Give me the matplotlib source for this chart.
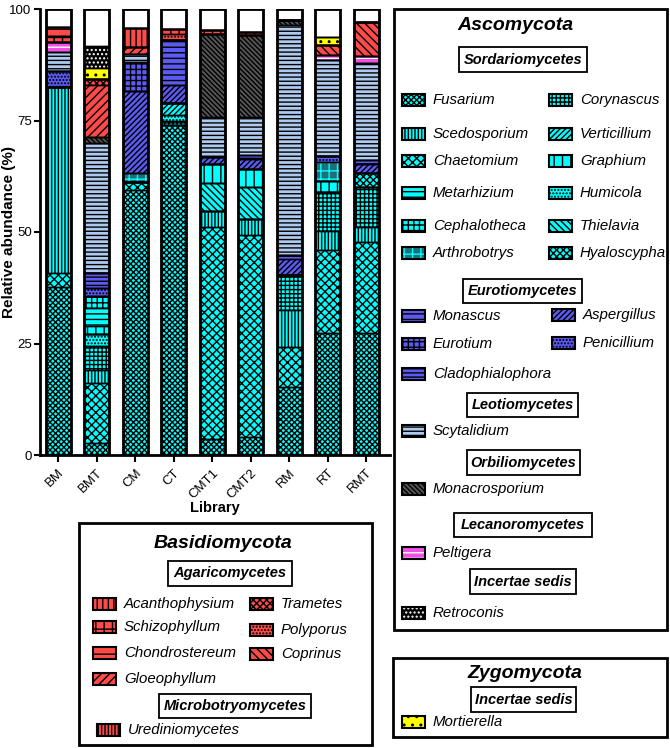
import matplotlib
matplotlib.use("Agg")
import matplotlib.pyplot as plt
from matplotlib.patches import Rectangle
import numpy as np

plt.rcParams['font.family'] = ['Liberation Sans', 'DejaVu Sans']
plt.rcParams['hatch.linewidth'] = 1.0

libraries = ["BM", "BMT", "CM", "CT", "CMT1", "CMT2", "RM", "RT", "RMT"]
yticks = [0, 25, 50, 75, 100]

# ---- data (relative abundance %, per library) ----
Fusarium        = [37.7, 2.7, 59.4, 74.0, 3.5, 4.0, 15.3, 27.3, 27.3]
Chaetomium      = [3.2, 13.4, 1.8, 0.0, 47.6, 45.3, 9.0, 18.7, 20.4]
Scedosporium    = [41.5, 2.9, 0.0, 0.0, 3.6, 3.6, 8.3, 4.2, 3.4]
Corynascus      = [0.0, 5.4, 0.0, 1.0, 0.0, 0.0, 7.8, 8.8, 8.9]
Humicola        = [0.0, 2.8, 0.0, 1.2, 0.0, 0.0, 0.0, 0.0, 0.0]
Verticillium    = [0.0, 0.0, 0.0, 2.7, 0.0, 0.0, 0.0, 0.0, 0.0]
Thielavia       = [0.0, 0.0, 0.0, 0.0, 6.3, 7.1, 0.0, 0.0, 0.0]
Hyaloscypha     = [0.0, 0.0, 0.0, 0.0, 0.0, 0.0, 0.0, 0.0, 3.3]
Graphium        = [0.0, 1.8, 0.0, 0.0, 4.3, 4.2, 0.0, 2.4, 0.0]
Metarhizium     = [0.0, 4.0, 0.0, 0.0, 0.0, 0.0, 0.0, 0.0, 0.0]
Cephalotheca    = [0.0, 2.7, 0.0, 0.0, 0.0, 0.0, 0.0, 0.0, 0.0]
Arthrobotrys    = [0.0, 0.0, 2.0, 0.0, 0.0, 0.0, 0.0, 4.2, 0.0]
Penicillium     = [3.7, 1.8, 0.0, 0.0, 0.0, 0.0, 0.0, 1.4, 0.0]
Aspergillus     = [0.0, 0.0, 18.5, 4.0, 1.5, 2.2, 3.5, 0.0, 1.9]
Cladophialophora= [0.0, 3.3, 0.0, 0.0, 0.0, 0.0, 0.9, 0.0, 0.0]
Monascus        = [0.0, 0.0, 0.0, 10.2, 0.0, 0.9, 0.0, 0.0, 0.9]
Eurotium        = [0.0, 0.0, 6.4, 0.0, 0.0, 0.0, 0.0, 0.0, 0.0]
Scytalidium     = [4.3, 29.2, 1.8, 0.0, 9.0, 8.4, 51.6, 21.6, 21.8]
Monacrosporium  = [0.0, 1.3, 0.0, 0.0, 18.6, 18.4, 1.1, 0.0, 0.0]
Peltigera       = [2.2, 0.0, 0.0, 0.0, 0.0, 0.0, 0.0, 1.0, 1.5]
Gloeophyllum    = [0.0, 11.7, 1.6, 0.0, 0.0, 0.0, 0.0, 0.0, 0.0]
Trametes        = [0.0, 1.3, 0.0, 0.0, 0.0, 0.0, 0.0, 0.0, 0.0]
Coprinus        = [0.0, 0.0, 0.0, 0.0, 0.0, 0.0, 0.0, 2.4, 7.6]
Polyporus       = [0.0, 0.0, 0.0, 1.3, 0.0, 0.0, 0.0, 0.0, 0.0]
Schizophyllum   = [1.4, 0.0, 0.0, 1.1, 1.0, 0.8, 0.0, 0.0, 0.0]
Acanthophysium  = [0.0, 0.0, 4.2, 0.0, 0.0, 0.0, 0.0, 0.0, 0.0]
Chondrostereum  = [2.0, 0.0, 0.0, 0.0, 0.0, 0.0, 0.0, 0.0, 0.0]
Urediniomycetes = [0.0, 0.0, 0.0, 0.0, 0.0, 0.0, 0.0, 0.0, 0.0]
Mortierella     = [0.0, 2.4, 0.0, 0.0, 0.0, 0.0, 0.0, 1.8, 0.0]
Retroconis      = [0.0, 5.0, 0.0, 0.0, 0.0, 0.0, 0.0, 0.0, 0.0]
Others          = [4.0, 8.3, 4.3, 4.5, 4.6, 5.1, 2.5, 6.2, 3.0]

series = [
    ("Fusarium", Fusarium), ("Chaetomium", Chaetomium), ("Scedosporium", Scedosporium),
    ("Corynascus", Corynascus), ("Humicola", Humicola), ("Verticillium", Verticillium),
    ("Thielavia", Thielavia), ("Hyaloscypha", Hyaloscypha), ("Graphium", Graphium),
    ("Metarhizium", Metarhizium), ("Cephalotheca", Cephalotheca), ("Arthrobotrys", Arthrobotrys),
    ("Penicillium", Penicillium), ("Aspergillus", Aspergillus), ("Cladophialophora", Cladophialophora),
    ("Monascus", Monascus), ("Eurotium", Eurotium), ("Scytalidium", Scytalidium),
    ("Monacrosporium", Monacrosporium), ("Peltigera", Peltigera), ("Gloeophyllum", Gloeophyllum),
    ("Trametes", Trametes), ("Coprinus", Coprinus), ("Polyporus", Polyporus),
    ("Schizophyllum", Schizophyllum), ("Acanthophysium", Acanthophysium),
    ("Chondrostereum", Chondrostereum), ("Urediniomycetes", Urediniomycetes),
    ("Mortierella", Mortierella), ("Retroconis", Retroconis), ("Others", Others),
]

# ---- styles: (face, hatch, hatch colour) ----
CY, BL, LB, GR, MG, RD, YL = '#00FFFF', '#5B5BF2', '#AECBEF', '#555555', '#F050E6', '#FF4A4A', '#FFFF00'
style = {
    "Fusarium": (CY, 'xxxxxx', 'black'),
    "Chaetomium": (CY, 'xxxx', 'black'),
    "Scedosporium": (CY, '|||||', 'black'),
    "Corynascus": (CY, '++++', 'black'),
    "Humicola": (CY, '.....', 'black'),
    "Verticillium": (CY, '//////', 'black'),
    "Thielavia": (CY, '\\\\\\\\\\', 'black'),
    "Hyaloscypha": (CY, 'xxxxx', 'black'),
    "Graphium": (CY, '||', 'black'),
    "Metarhizium": (CY, '---', 'black'),
    "Cephalotheca": (CY, '+++', 'black'),
    "Arthrobotrys": ('#1f6f7a', '++', CY),
    "Penicillium": (BL, '.....', 'black'),
    "Aspergillus": (BL, '//////', 'black'),
    "Cladophialophora": (BL, '----', 'black'),
    "Monascus": (BL, '---', 'black'),
    "Eurotium": (BL, '+++', 'black'),
    "Scytalidium": (LB, '----', 'black'),
    "Monacrosporium": (GR, '\\\\\\\\\\\\\\', 'black'),
    "Peltigera": (MG, '---', 'white'),
    "Gloeophyllum": (RD, '////', 'black'),
    "Trametes": (RD, 'xxxxx', 'black'),
    "Coprinus": (RD, '\\\\\\\\', 'black'),
    "Polyporus": (RD, '.....', 'black'),
    "Schizophyllum": (RD, '++', 'black'),
    "Acanthophysium": (RD, '|||', 'black'),
    "Chondrostereum": (RD, '--', 'black'),
    "Urediniomycetes": (RD, '|||||', 'black'),
    "Mortierella": (YL, '..', 'black'),
    "Retroconis": ('black', '....', 'white'),
    "Others": ('white', '', 'black'),
}

fig = plt.figure(figsize=(6.7, 7.48), dpi=100)
ax = fig.add_axes([40/670, 293/748, 350/670, 446/748])

x = np.arange(len(libraries))
w = 0.65
bottom = np.zeros(len(libraries))
for name, vals in series:
    vals = np.array(vals, dtype=float)
    face, hatch, hc = style[name]
    ax.bar(x, vals, w, bottom=bottom, color=face, edgecolor=hc, hatch=hatch, linewidth=0, zorder=2)
    ax.bar(x, vals, w, bottom=bottom, fill=False, edgecolor='black', linewidth=1.0, zorder=3)
    bottom += vals
ax.bar(x, bottom, w, fill=False, edgecolor='black', linewidth=2.0, zorder=4)

ax.set_xlim(-0.47, 8.62)
ax.set_ylim(0, 100)
ax.set_yticks(yticks)
ax.set_xticks(x)
ax.set_xticklabels(libraries, rotation=45, ha='right', rotation_mode='anchor', fontsize=9.5)
ax.tick_params(axis='y', labelsize=9.5, width=1.5, length=4, pad=2)
ax.tick_params(axis='x', width=1.5, length=5)
for s in ['top', 'right']:
    ax.spines[s].set_visible(False)
for s in ['left', 'bottom']:
    ax.spines[s].set_linewidth(2)
ax.set_ylabel("Relative abundance (%)", fontsize=11, fontweight='bold')
ax.yaxis.set_label_coords(-0.069, 0.5)
ax.set_xlabel("Library", fontsize=10.5, fontweight='bold', labelpad=0)

# ---- legend panels (pixel coordinates overlay) ----
ov = fig.add_axes([0, 0, 1, 1])
ov.set_xlim(0, 670)
ov.set_ylim(748, 0)
ov.axis('off')

def frame(x0, y0, x1, y1, lw=2.0):
    ov.add_patch(Rectangle((x0, y0), x1 - x0, y1 - y0, fill=False, edgecolor='black', linewidth=lw))

def title(xc, yc, t):
    ov.text(xc, yc, t, ha='center', va='center', fontsize=14, fontweight='bold', style='italic')

def cls(x0, y0, x1, y1, t):
    ov.add_patch(Rectangle((x0, y0), x1 - x0, y1 - y0, fill=False, edgecolor='black', linewidth=1.3))
    ov.text((x0 + x1) / 2, (y0 + y1) / 2, t, ha='center', va='center', fontsize=10.5,
            fontweight='bold', style='italic')

def entry(xs, yc, name, tx=None):
    face, hatch, hc = style[name]
    ov.add_patch(Rectangle((xs, yc - 6), 23, 12, facecolor=face, edgecolor=hc, hatch=hatch, linewidth=0))
    ov.add_patch(Rectangle((xs, yc - 6), 23, 12, fill=False, edgecolor='black', linewidth=1.5))
    ov.text(xs + 31 if tx is None else tx, yc, name, ha='left', va='center', fontsize=10.8, style='italic')

# Ascomycota
frame(394, 9, 667, 630)
title(515, 25, "Ascomycota")
cls(459, 47, 587, 72, "Sordariomycetes")
for yc, a, b in [(100, "Fusarium", "Corynascus"), (134, "Scedosporium", "Verticillium"),
                 (161, "Chaetomium", "Graphium"), (193, "Metarhizium", "Humicola"),
                 (226, "Cephalotheca", "Thielavia"), (253, "Arthrobotrys", "Hyaloscypha")]:
    entry(402, yc, a)
    entry(549, yc, b)
cls(463, 279, 582, 303, "Eurotiomycetes")
entry(402, 316, "Monascus"); entry(552, 315, "Aspergillus")
entry(402, 344, "Eurotium"); entry(552, 343, "Penicillium")
entry(402, 374, "Cladophialophora")
cls(467, 393, 578, 417, "Leotiomycetes")
entry(402, 431, "Scytalidium")
cls(467, 450, 580, 475, "Orbiliomycetes")
entry(402, 489, "Monacrosporium")
cls(454, 513, 592, 537, "Lecanoromycetes")
entry(402, 553, "Peltigera")
cls(470, 569, 576, 594, "Incertae sedis")
entry(402, 613, "Retroconis")

# Basidiomycota
frame(79, 523, 372, 745)
title(223, 543, "Basidiomycota")
cls(168, 561, 292, 586, "Agaricomycetes")
entry(93, 604, "Acanthophysium"); entry(250, 604, "Trametes")
entry(93, 627, "Schizophyllum"); entry(250, 630, "Polyporus")
entry(93, 653, "Chondrostereum"); entry(250, 654, "Coprinus")
entry(93, 679, "Gloeophyllum")
cls(159, 694, 311, 718, "Microbotryomycetes")
entry(97, 730, "Urediniomycetes")

# Zygomycota
frame(393, 658, 667, 737)
title(525, 674, "Zygomycota")
cls(471, 687, 576, 712, "Incertae sedis")
entry(402, 722, "Mortierella")

fig.savefig("out.png", dpi=100)
